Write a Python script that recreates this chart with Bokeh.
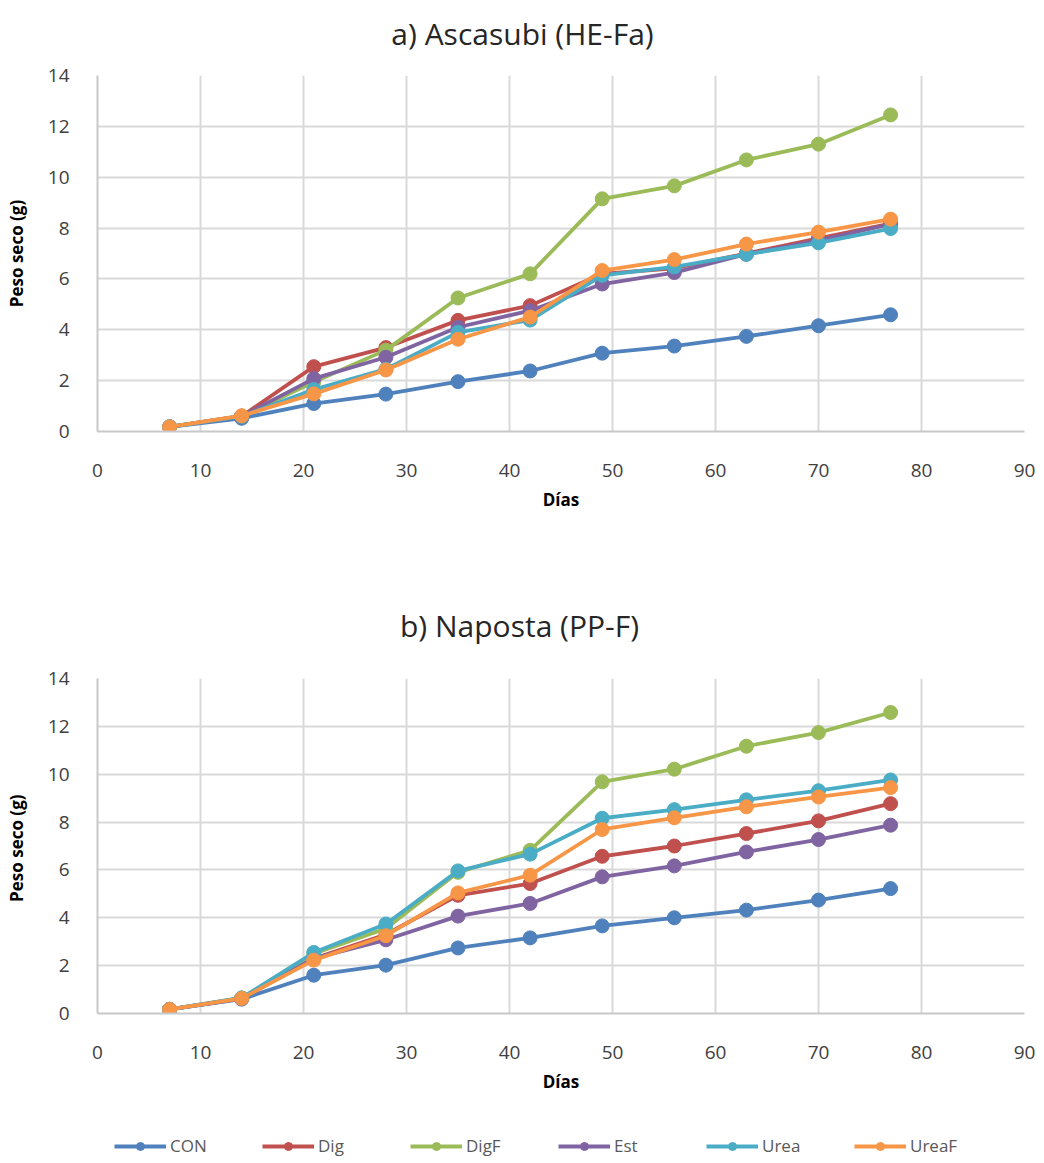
from bokeh.plotting import figure
from bokeh.layouts import column
from bokeh.models import FixedTicker, Legend, LegendItem, Range1d, Label
from bokeh.embed import file_html
from bokeh.resources import INLINE

days = [7, 14, 21, 28, 35, 42, 49, 56, 63, 70, 77]
series_names = ["CON", "Dig", "DigF", "Est", "Urea", "UreaF"]
colors = ["#4F81BD", "#C0504D", "#9BBB59", "#8064A2", "#4BACC6", "#F79646"]

# a) Ascasubi (HE-Fa)
a_CON = [0.18, 0.52, 1.1, 1.47, 1.96, 2.38, 3.08, 3.36, 3.74, 4.16, 4.59]
a_Dig = [0.18, 0.6, 2.55, 3.3, 4.37, 4.95, 6.2, 6.42, 7.0, 7.6, 8.18]
a_DigF = [0.18, 0.6, 1.95, 3.2, 5.25, 6.2, 9.15, 9.66, 10.68, 11.3, 12.45]
a_Est = [0.18, 0.6, 2.08, 2.92, 4.1, 4.75, 5.8, 6.25, 6.97, 7.52, 8.15]
a_Urea = [0.18, 0.6, 1.65, 2.45, 3.9, 4.38, 6.14, 6.47, 6.97, 7.42, 7.98]
a_UreaF = [0.18, 0.62, 1.48, 2.42, 3.63, 4.5, 6.33, 6.76, 7.37, 7.84, 8.35]

# b) Naposta (PP-F)
b_CON = [0.17, 0.6, 1.6, 2.02, 2.74, 3.16, 3.66, 4.0, 4.32, 4.74, 5.22]
b_Dig = [0.17, 0.63, 2.3, 3.3, 4.94, 5.43, 6.57, 7.0, 7.52, 8.05, 8.77]
b_DigF = [0.17, 0.65, 2.5, 3.55, 5.9, 6.82, 9.68, 10.21, 11.17, 11.74, 12.58]
b_Est = [0.17, 0.62, 2.3, 3.08, 4.07, 4.6, 5.71, 6.17, 6.75, 7.27, 7.87]
b_Urea = [0.17, 0.65, 2.55, 3.74, 5.96, 6.66, 8.16, 8.52, 8.93, 9.31, 9.76]
b_UreaF = [0.17, 0.63, 2.23, 3.25, 5.04, 5.78, 7.69, 8.18, 8.64, 9.05, 9.44]

a_series = [a_CON, a_Dig, a_DigF, a_Est, a_Urea, a_UreaF]
b_series = [b_CON, b_Dig, b_DigF, b_Est, b_Urea, b_UreaF]

x_ticks = [0, 10, 20, 30, 40, 50, 60, 70, 80, 90]
y_ticks = [0, 2, 4, 6, 8, 10, 12, 14]

titles = ["a) Ascasubi (HE-Fa)", "b) Naposta (PP-F)"]

FONT = "Open Sans"
TXT = "#404040"


def strip(height):
    s = figure(width=1044, height=height, output_backend="svg", toolbar_location=None,
               x_range=Range1d(-2, -1), y_range=Range1d(-2, -1),
               x_axis_type=None, y_axis_type=None,
               min_border_left=0, min_border_right=0, min_border_top=0, min_border_bottom=0)
    s.outline_line_color = None
    s.xgrid.visible = False
    s.ygrid.visible = False
    return s


def title_strip(text, height, x_center, y_from_bottom):
    s = strip(height)
    s.add_layout(Label(x=x_center, y=y_from_bottom, x_units="screen", y_units="screen",
                       text=text, text_align="center", text_baseline="middle",
                       text_font=FONT, text_font_size="30px", text_color="#262626"))
    return s


def make_fig(height, left, right, top, bottom, series, ylabel):
    p = figure(width=1044, height=height, output_backend="svg", toolbar_location=None,
               x_range=Range1d(0, 90), y_range=Range1d(0, 14),
               min_border_left=left, min_border_right=right,
               min_border_top=top, min_border_bottom=bottom)
    p.outline_line_color = None
    p.xaxis.ticker = FixedTicker(ticks=x_ticks)
    p.yaxis.ticker = FixedTicker(ticks=y_ticks)
    for ax in (p.xaxis[0], p.yaxis[0]):
        ax.axis_line_color = "#c8c8c8"
        ax.axis_line_width = 2
        ax.major_tick_line_color = None
        ax.minor_tick_line_color = None
        ax.major_label_text_font = FONT
        ax.major_label_text_font_size = "19px"
        ax.major_label_text_color = TXT
        ax.axis_label_text_font = FONT
        ax.axis_label_text_font_size = "17px"
        ax.axis_label_text_font_style = "bold"
        ax.axis_label_text_color = "#000000"
    p.xaxis.axis_label = "Días"
    p.yaxis.axis_label = ylabel
    p.xaxis.major_label_standoff = 26
    p.xaxis.axis_label_standoff = 8
    p.yaxis.major_label_standoff = 22
    p.yaxis.axis_label_standoff = 17
    p.xgrid.grid_line_color = "#d9d9d9"
    p.ygrid.grid_line_color = "#d9d9d9"
    p.xgrid.grid_line_width = 2
    p.ygrid.grid_line_width = 2
    for name, c, ys in zip(series_names, colors, series):
        p.line(days, ys, line_color=c, line_width=3.8)
        p.scatter(days, ys, marker="circle", size=14, fill_color=c, line_color=c)
    return p


t1 = title_strip(titles[0], 60, 425, 27)
p1 = make_fig(485, 97, 16, 15, 114, a_series, "Peso seco (g)")
t2 = title_strip(titles[1], 110, 422, 30)
p2 = make_fig(445, 93, 20, 23, 87, b_series, "Peso  seco (g)")

# legend strip (series drawn outside the visible range; only the legend shows)
p3 = strip(63)
items = []
for name, c, ys in zip(series_names, colors, b_series):
    l = p3.line(days, ys, line_color=c, line_width=4)
    s = p3.scatter(days, ys, marker="circle", size=13, fill_color=c, line_color=c)
    items.append(LegendItem(label=name, renderers=[l, s]))
legend = Legend(items=items, orientation="horizontal", location=(17, 6),
                glyph_width=52, glyph_height=20, label_standoff=4, label_width=90,
                spacing=2, margin=0, padding=4,
                border_line_color=None, background_fill_alpha=0,
                label_text_font=FONT, label_text_font_size="17px", label_text_color="#595959")
p3.add_layout(legend, "center")

layout = column(t1, p1, t2, p2, p3, spacing=0)
open("out.html", "w").write(file_html(layout, INLINE))
